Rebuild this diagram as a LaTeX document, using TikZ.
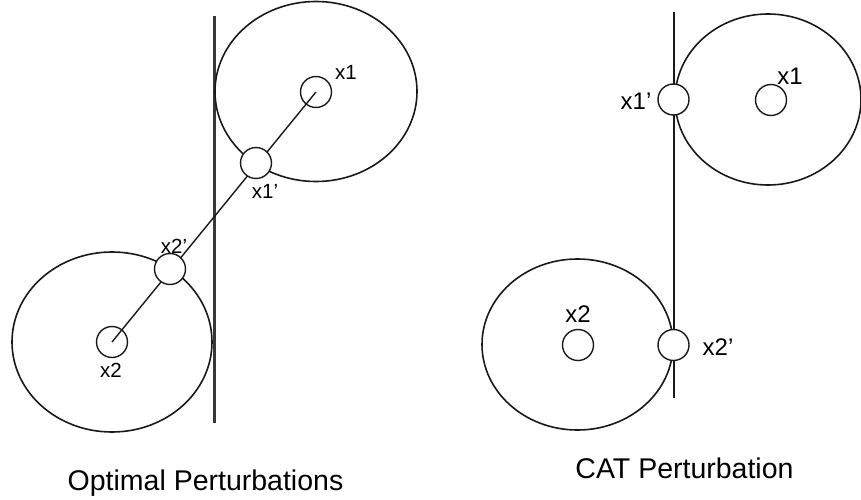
\documentclass[tikz,border=0pt]{standalone}
\usepackage{fontspec}
\setmainfont{Liberation Sans}
\usetikzlibrary{shapes.geometric}
\begin{document}
\begin{tikzpicture}[x=1pt,y=-1pt,
  bigell/.style={ellipse,draw=black!90,line width=1.6pt,inner sep=0pt},
  pt/.style={circle,draw=black!90,line width=1.4pt,minimum size=31pt,inner sep=0pt},
  ptw/.style={pt,fill=white},
  lblL/.style={anchor=base,font=\fontsize{20.5}{20}\selectfont,inner sep=0pt},
  lblR/.style={anchor=base,font=\fontsize{24}{24}\selectfont,inner sep=0pt},
  captext/.style={anchor=base,font=\fontsize{28.5}{28}\selectfont,inner sep=0pt}]
\useasboundingbox (0,0) rectangle (861,500);
% ---------- left panel ----------
\coordinate (lt) at (214.5,16);
\coordinate (lb) at (214.5,423);
\draw[line width=2.2pt,black!78] (lt) -- (lb);
\node[bigell,minimum width=202pt,minimum height=180pt] (LE1) at (316,91.5) {};
\node[bigell,minimum width=200pt,minimum height=180pt] (LE2) at (112,342) {};
\node[pt] (Lx1) at (316,92) {};
\node[pt] (Lx2) at (112,342) {};
\draw[line width=1.4pt,black!90] (Lx1.center) -- (Lx2.center);
\node[ptw] (Lx1p) at (256,163) {};
\node[ptw] (Lx2p) at (170,269) {};
\node[lblL] (tLx1) at (346,80) {x1};
\node[lblL] (tLx1p) at (265,198) {x1’};
\node[lblL] (tLx2p) at (174,253) {x2’};
\node[lblL] (tLx2) at (111,377) {x2};
\node[captext] (capL) at (205.5,490) {Optimal Perturbations};
% ---------- right panel ----------
\coordinate (rt) at (674,12);
\coordinate (rb) at (674,398);
\draw[line width=1.4pt,black!90] (rt) -- (rb);
\node[bigell,minimum width=186pt,minimum height=171pt] (RE1) at (768,99.5) {};
\node[bigell,minimum width=191pt,minimum height=171pt] (RE2) at (577.5,344.5) {};
\node[pt] (Rx1) at (771,100) {};
\node[pt] (Rx2) at (578,345) {};
\node[ptw] (Rx1p) at (673.5,99.5) {};
\node[ptw] (Rx2p) at (673.5,345) {};
\node[lblR] (tRx1) at (790,85) {x1};
\node[lblR] (tRx1p) at (636,110) {x1’};
\node[lblR] (tRx2) at (578,322) {x2};
\node[lblR] (tRx2p) at (718,355) {x2’};
\node[captext] (capR) at (684.5,478) {CAT Perturbation};
\end{tikzpicture}
\end{document}
